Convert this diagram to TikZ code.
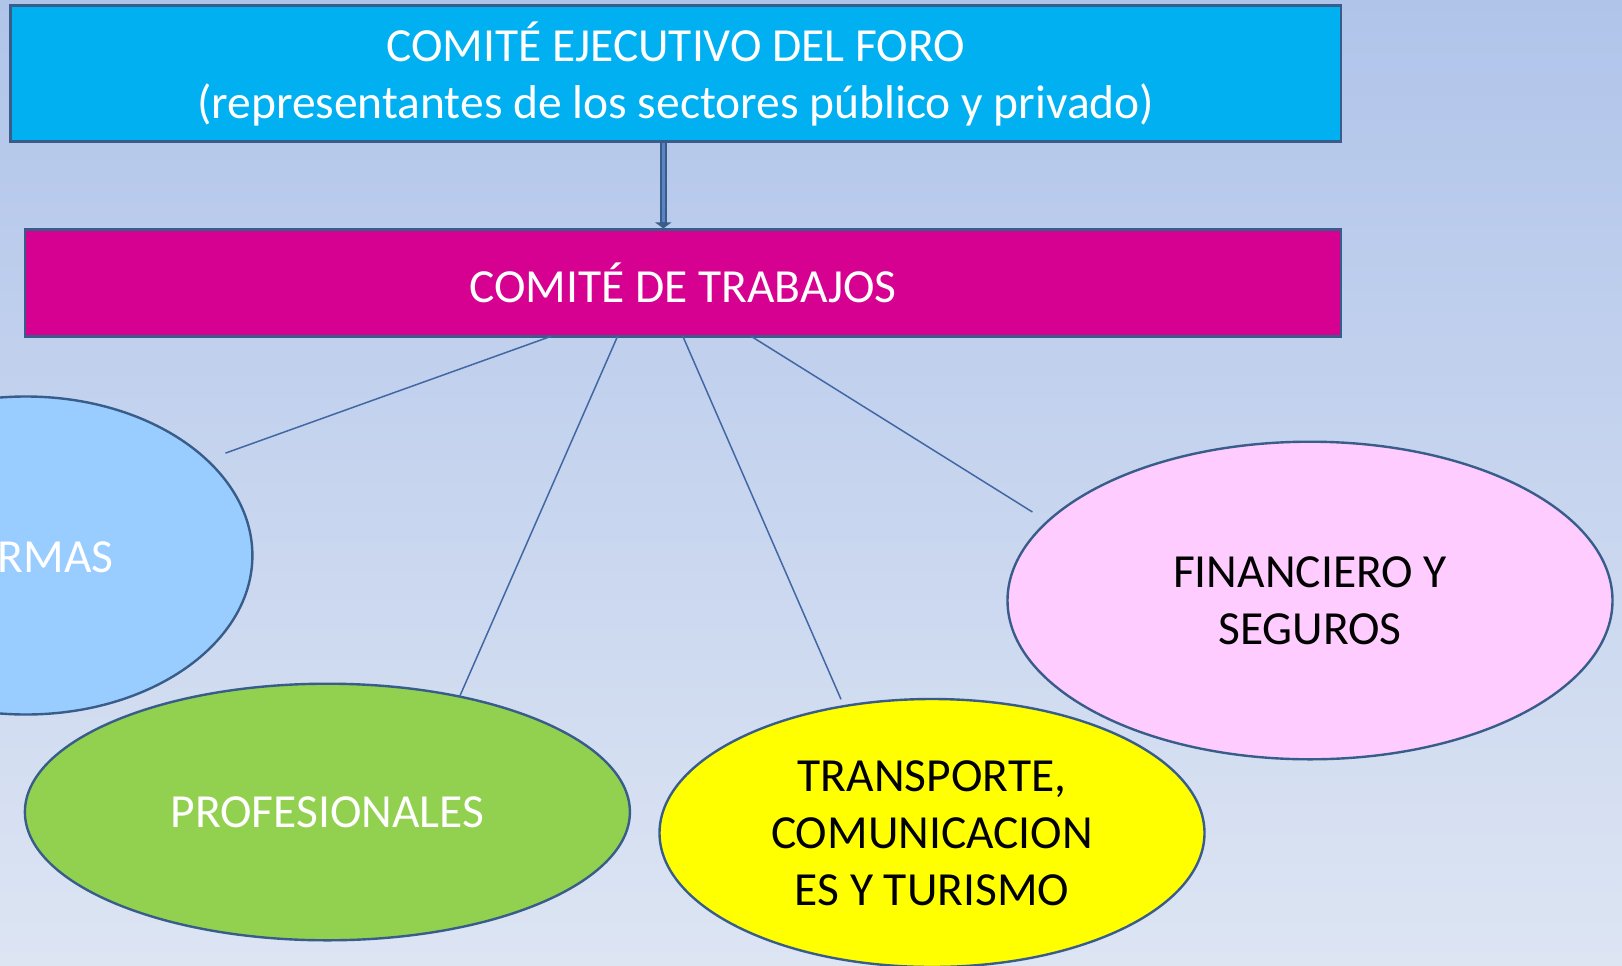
\documentclass[tikz,border=0pt]{standalone}
\usepackage{fontspec}
\setmainfont{Carlito}
\usetikzlibrary{arrows.meta,shapes.geometric}
\definecolor{bgtop}{RGB}{176,196,234}
\definecolor{bgbot}{RGB}{221,229,243}
\definecolor{cyanbox}{RGB}{0,176,240}
\definecolor{magbox}{RGB}{214,0,145}
\definecolor{edge}{RGB}{56,93,138}
\definecolor{linec}{RGB}{66,104,164}
\definecolor{arrowin}{RGB}{90,132,196}
\definecolor{lblue}{RGB}{153,204,255}
\definecolor{lgreen}{RGB}{146,208,80}
\definecolor{lyellow}{RGB}{255,255,0}
\definecolor{lpink}{RGB}{255,204,255}
\tikzset{
  bigtext/.style={font=\fontsize{47.5}{57}\selectfont, align=center},
  boxnode/.style={rectangle, draw=edge, line width=2.6pt, inner sep=0pt, bigtext},
  ellnode/.style={ellipse, draw=edge, line width=2.4pt, inner sep=0pt, bigtext},
  branch/.style={draw=linec, line width=1.5pt},
}
\begin{document}
\begin{tikzpicture}[x=1pt,y=-1pt]
\useasboundingbox (0,0) rectangle (1622,966);
\shade[top color=bgtop, bottom color=bgbot] (0,0) rectangle (1622,966);

% boxes
\node[boxnode, fill=cyanbox, text=white, minimum width=1330.7pt, minimum height=136.5pt] (ejec) at (675.7,73.5)
  {COMITÉ EJECUTIVO DEL FORO\\(representantes de los sectores público y privado)};
\node[boxnode, fill=magbox, text=white, minimum width=1316.2pt, minimum height=106.5pt] (trab) at (683,283)
  {COMITÉ DE TRABAJOS};

% arrow
\coordinate (ax) at (663.3,0);
\draw[edge, line width=7pt, -{Triangle[width=16pt,length=6pt]}] (ejec.south -| ax) -- (trab.north -| ax);
\draw[arrowin, line width=2.4pt, shorten >=6pt] (ejec.south -| ax) -- (trab.north -| ax);

% ellipses
\node[ellnode, fill=lblue, minimum width=453pt, minimum height=318pt] (firmas) at (25.9,555.5) {};
\node[bigtext, text=white, anchor=east, inner sep=0pt] (firmastxt) at (113.8,557) {RMAS};
\node[ellnode, fill=lgreen, text=white, minimum width=605pt, minimum height=256.6pt] (prof) at (327.4,812) {PROFESIONALES};
\node[ellnode, fill=lyellow, text=black, minimum width=545pt, minimum height=268pt] (trans) at (932,833)
  {TRANSPORTE,\\COMUNICACION\\ES Y TURISMO};
\node[ellnode, fill=lpink, text=black, minimum width=605pt, minimum height=317.6pt] (fin) at (1310,600.5)
  {FINANCIERO Y\\SEGUROS};

% connectors
\coordinate (s1) at (551.4,336.2);
\coordinate (s2) at (617.6,336.2);
\coordinate (s3) at (682.8,336.2);
\coordinate (s4) at (751,336.2);
\coordinate (e1) at (225.5,453.1);
\coordinate (e2) at (459.3,697.3);
\coordinate (e3) at (841,699.3);
\coordinate (e4) at (1032.4,512);
\draw[branch] (s1) -- (e1);
\draw[branch] (s2) -- (e2);
\draw[branch] (s3) -- (e3);
\draw[branch] (s4) -- (e4);
\end{tikzpicture}
\end{document}
